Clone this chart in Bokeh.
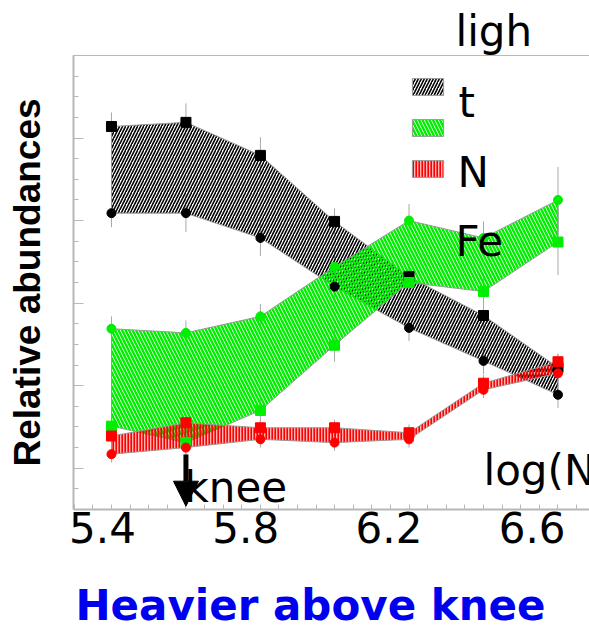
import numpy as np
from bokeh.plotting import figure
from bokeh.models import (Range1d, FixedTicker, LinearAxis, Legend, LegendItem,
                          Label, Arrow, NormalHead, CustomJSTickFormatter, Title)
from bokeh.embed import file_html
from bokeh.resources import INLINE

# ---- data ----
log_e = [5.425, 5.633, 5.841, 6.048, 6.256, 6.464, 6.672]
light_hi = [0.414, 0.419, 0.379, 0.299, 0.232, 0.185, 0.122]
light_lo = [0.309, 0.309, 0.279, 0.220, 0.170, 0.130, 0.089]
n_hi = [0.169, 0.164, 0.184, 0.244, 0.300, 0.279, 0.325]
n_lo = [0.051, 0.031, 0.070, 0.149, 0.225, 0.214, 0.274]
fe_hi = [0.039, 0.055, 0.049, 0.049, 0.043, 0.103, 0.129]
fe_lo = [0.017, 0.025, 0.035, 0.031, 0.035, 0.095, 0.115]
light_err = [0.017, 0.023, 0.022, 0.016, 0.016, 0.016, 0.016]
n_err = [0.015, 0.015, 0.015, 0.020, 0.020, 0.020, 0.040]
fe_err = [0.010, 0.010, 0.010, 0.010, 0.010, 0.010, 0.010]
x_tick_values = [5.4, 5.8, 6.2, 6.6]
x_tick_labels = ["5.4", "5.8", "6.2", "6.6"]
knee_x = log_e[1]

X0, X1 = 5.319, 6.760
Y0, Y1 = -0.05, 0.5

p = figure(width=589, height=632, output_backend="svg", toolbar_location=None,
           x_range=Range1d(X0, X1), y_range=Range1d(Y0, Y1),
           min_border_left=73, min_border_right=0, min_border_top=55,
           min_border_bottom=122)
p.grid.visible = False
p.outline_line_color = None
p.background_fill_color = "white"
p.border_fill_color = "white"

AX = "#b8b8b8"
# x axis
step = (log_e[-1] - log_e[0]) / 6.0
d = step / 4.0
x_minor = [v for v in np.arange(log_e[0] - 2 * d, X1, d)]
xa = p.xaxis[0]
xa.ticker = FixedTicker(ticks=x_tick_values, minor_ticks=x_minor)
xa.major_label_overrides = {v: s for v, s in zip(x_tick_values, x_tick_labels)}
xa.major_tick_in = 0
xa.major_tick_out = 0
xa.minor_tick_in = 5
xa.minor_tick_out = 0
xa.minor_tick_line_color = AX
xa.axis_line_color = AX
xa.axis_line_width = 2
xa.major_label_standoff = 2
xa.major_label_text_font = "DejaVu Sans"
xa.major_label_text_font_size = "42px"
xa.major_label_text_color = "black"
# trailing em space shifts the centred title a little to the left, as in the reference
xa.axis_label = "Heavier above knee\u2003"
xa.axis_label_text_font = "DejaVu Sans"
xa.axis_label_text_font_style = "bold"
xa.axis_label_text_font_size = "42px"
xa.axis_label_text_color = "#0000f0"
xa.axis_label_standoff = 35

# y axis
ya = p.yaxis[0]
y_major = [0.0, 0.1, 0.2, 0.3, 0.4, 0.5]
y_minor = [round(Y0 + 0.025 * k, 4) for k in range(23)]
ya.ticker = FixedTicker(ticks=y_major, minor_ticks=y_minor)
ya.formatter = CustomJSTickFormatter(code="return ''")
ya.major_tick_in = 10
ya.major_tick_out = 0
ya.minor_tick_in = 5
ya.minor_tick_out = 0
ya.major_tick_line_color = AX
ya.minor_tick_line_color = AX
ya.axis_line_color = AX
ya.axis_line_width = 2
ya.axis_label = "Relative abundances"
ya.axis_label_text_font = "Liberation Sans"
ya.axis_label_text_font_style = "bold"
ya.axis_label_text_font_size = "37px"
ya.axis_label_text_color = "black"
ya.axis_label_standoff = 26

top = LinearAxis(ticker=FixedTicker(ticks=[]), axis_line_color=AX,
                 major_tick_in=0, major_tick_out=0, minor_tick_in=0, minor_tick_out=0)
p.add_layout(top, "above")

series = [
    (light_hi, light_lo, light_err, "black", "/", 6, 1.6, "square", "circle", 0.0),
    (n_hi, n_lo, n_err, "#00ee00", "\\", 7, 2.4, "circle", "square", 0.0),
    (fe_hi, fe_lo, fe_err, "#ff0000", "|", 3, 2.2, "square", "circle", 0.3),
]

# error bars
for hi, lo, err, color, *_ in series:
    hi_a, lo_a, e_a = np.array(hi), np.array(lo), np.array(err)
    p.segment(x0=log_e, y0=list(hi_a - e_a), x1=log_e, y1=list(hi_a + e_a),
              line_color="#a8a8a8", line_width=1)
    p.segment(x0=log_e, y0=list(lo_a - e_a), x1=log_e, y1=list(lo_a + e_a),
              line_color="#a8a8a8", line_width=1)

bands = []
for hi, lo, err, color, pat, sc, w, m_hi, m_lo, fa in series:
    xs = log_e + log_e[::-1]
    ys = hi + lo[::-1]
    r = p.patch(xs, ys, fill_color=color, fill_alpha=fa, line_color="#999999",
                line_width=1, hatch_pattern=pat, hatch_color=color, hatch_scale=sc,
                hatch_weight=w)
    bands.append(r)

for hi, lo, err, color, pat, sc, w, m_hi, m_lo, fa in series:
    p.scatter(log_e, hi, marker=m_hi, size=10 if m_hi == "square" else 9, color=color)
    p.scatter(log_e, lo, marker=m_lo, size=10 if m_lo == "square" else 9, color=color)

legend = Legend(items=[LegendItem(label="", renderers=[bands[0]]),
                       LegendItem(label="", renderers=[bands[1]]),
                       LegendItem(label="", renderers=[bands[2]])],
                location=(335, 330), orientation="vertical",
                glyph_width=39, glyph_height=21, spacing=20, padding=0, margin=0,
                border_line_color=None, background_fill_alpha=0,
                label_width=0, label_standoff=0)
p.add_layout(legend)

def txt(t, x, y, bold=False, color="black"):
    p.add_layout(Label(x=x, y=y, x_units="screen", y_units="screen", text=t,
                       text_font="DejaVu Sans", text_font_size="42px",
                       text_font_style="bold" if bold else "normal",
                       text_color=color, text_align="left",
                       text_baseline="alphabetic"))

txt("t", 385, 407)
txt("N", 384, 337)
txt("Fe", 382, 268)
txt("knee", 111, 22)
txt("log(N", 410, 39)

p.add_layout(Title(text="ligh", align="left", offset=382, standoff=0,
                   text_font="DejaVu Sans", text_font_size="42px",
                   text_font_style="normal", text_color="black"), "above")

p.add_layout(Arrow(end=NormalHead(size=25, fill_color="black", line_color="black"),
                   x_start=knee_x, y_start=0.0165, x_end=knee_x, y_end=-0.046,
                   line_width=5, line_color="black"))

open("out.html", "w").write(file_html(p, INLINE))
